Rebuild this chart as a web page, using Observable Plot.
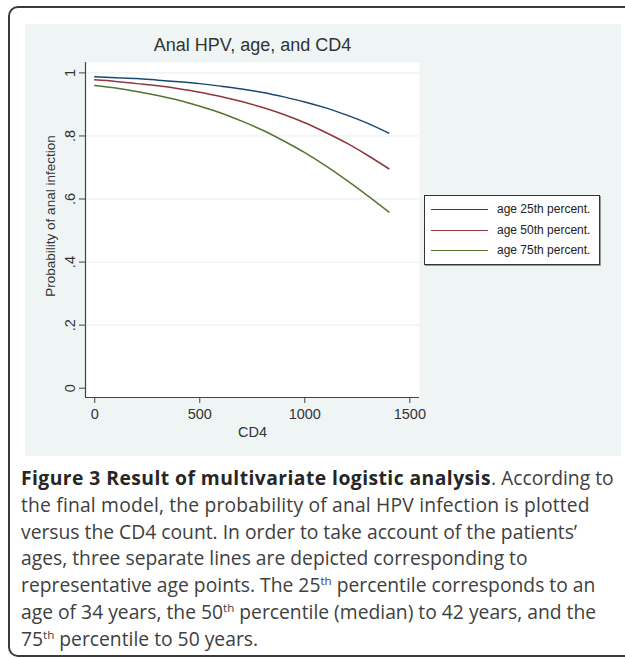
<!DOCTYPE html>
<html>
<head>
<meta charset="utf-8">
<script src="https://cdn.jsdelivr.net/npm/d3@7"></script>
<script src="https://cdn.jsdelivr.net/npm/@observablehq/plot@0.6"></script>
<style>
  html, body { margin: 0; padding: 0; background: #fff; }
  body { width: 625px; height: 659px; overflow: hidden; position: relative; }
  #border { position: absolute; left: 8px; top: 6px; width: 660px; height: 647px;
    border: 2px solid #3a3a3a; border-radius: 10px; }
  #panel { position: absolute; left: 25px; top: 24px; width: 596px; height: 432px; background: #eff5f5; }
  #chart { position: absolute; left: 25px; top: 24px; }
  #legend { position: absolute; left: 424px; top: 195px; width: 174px; height: 68px;
    background: #fff; border: 1px solid #333; box-shadow: 1px 1px 0 #999;
    font-family: "Liberation Sans", Arial, sans-serif; font-size: 12px; color: #222; }
  .row { position: absolute; left: 0; height: 14px; }
  .row .ln { position: absolute; left: 6px; top: 6px; width: 57px; height: 0; border-top: 1.5px solid; }
  .row .tx { position: absolute; left: 72px; top: -1px; white-space: nowrap; }
  #caption { position: absolute; left: 21px; top: 465px; width: 604px;
    font-family: "Open Sans", sans-serif; font-size: 19.3px; line-height: 26.8px; color: #404040; white-space: nowrap; }
  #caption b { color: #262626; letter-spacing: 0.45px; }
  #caption .l2 { letter-spacing: 0.18px; }
  #caption sup { font-size: 0.6em; line-height: 0; vertical-align: 0.62em; }
</style>
</head>
<body>
<div id="border"></div>
<div id="panel"></div>
<div id="chart"></div>
<div id="legend"></div>
<div id="caption">
<b>Figure 3 Result of multivariate logistic analysis</b>. According to<br>
<span class="l2">the final model, the probability of anal HPV infection is plotted</span><br>
versus the CD4 count. In order to take account of the patients’<br>
ages, three separate lines are depicted corresponding to<br>
representative age points. The 25<sup>th</sup> percentile corresponds to an<br>
age of 34 years, the 50<sup>th</sup> percentile (median) to 42 years, and the<br>
75<sup>th</sup> percentile to 50 years.
</div>
<script>
const cd4 = [0, 100, 200, 300, 400, 500, 600, 700, 800, 900, 1000, 1100, 1200, 1300, 1400];
const age25 = [0.988, 0.985, 0.982, 0.977, 0.972, 0.966, 0.958, 0.949, 0.938, 0.924, 0.908, 0.889, 0.866, 0.840, 0.809];
const age50 = [0.978, 0.973, 0.966, 0.959, 0.950, 0.939, 0.925, 0.909, 0.890, 0.868, 0.842, 0.811, 0.777, 0.738, 0.696];
const age75 = [0.960, 0.952, 0.941, 0.928, 0.913, 0.894, 0.873, 0.847, 0.818, 0.784, 0.747, 0.705, 0.659, 0.610, 0.559];
const seriesNames = ["age 25th percent.", "age 50th percent.", "age 75th percent."];
const seriesColors = ["#1a476f", "#90353b", "#55752f"];
const xTicks = [0, 500, 1000, 1500];
const xTickLabels = ["0", "500", "1000", "1500"];
const yTicks = [0, 0.2, 0.4, 0.6, 0.8, 1];
const yTickLabels = ["0", ".2", ".4", ".6", ".8", "1"];
const titleText = "Anal HPV, age, and CD4";
const xLabel = "CD4";
const yLabel = "Probability of anal infection";

const seriesValues = [age25, age50, age75];
const rows = [];
seriesValues.forEach((vals, s) => vals.forEach((v, i) => rows.push({x: cd4[i], y: v, s: seriesNames[s]})));

const xDomain = [-44, 1546];
const yDomain = [-0.0295, 1.033];
const font = "Liberation Sans, Arial, sans-serif";

const chart = Plot.plot({
  width: 596,
  height: 432,
  marginLeft: 60,
  marginRight: 202,
  marginTop: 38,
  marginBottom: 59,
  style: {fontFamily: font, fontSize: "14px", color: "#333", background: "transparent"},
  x: {domain: xDomain},
  y: {domain: yDomain},
  color: {domain: seriesNames, range: seriesColors},
  marks: [
    Plot.frame({fill: "white", stroke: null}),
    Plot.gridY(yTicks.filter(d => d > 0), {stroke: "#e4eeef", strokeOpacity: 1, strokeWidth: 1}),
    Plot.ruleX([xDomain[0]], {stroke: "#444", strokeWidth: 1.2}),
    Plot.ruleY([yDomain[0]], {stroke: "#444", strokeWidth: 1.2}),
    Plot.axisX(xTicks, {tickSize: 6, tickPadding: 5, label: null, stroke: "#444", fill: "#333", fontSize: 14.5,
      tickFormat: (d) => xTickLabels[xTicks.indexOf(d)]}),
    Plot.axisY(yTicks, {tickSize: 6, tickPadding: 5, tickRotate: -90, label: null,
      tickFormat: (d) => yTickLabels[yTicks.indexOf(d)], stroke: "#444", fill: "#333", fontSize: 14.5}),
    Plot.line(rows, {x: "x", y: "y", z: "s", stroke: "s", strokeWidth: 1.5, curve: "monotone-x"}),
    Plot.text([titleText], {frameAnchor: "top", dy: -17, lineAnchor: "middle", fontSize: 18, fill: "#333"}),
    Plot.text([xLabel], {frameAnchor: "bottom", dy: 35, lineAnchor: "middle", fontSize: 14.5, fill: "#333"}),
    Plot.text([yLabel], {frameAnchor: "left", dx: -35, dy: -14, rotate: -90, textAnchor: "middle", lineAnchor: "middle", fontSize: 13.5, fill: "#333"})
  ]
});
document.getElementById("chart").appendChild(chart);

const legend = document.getElementById("legend");
seriesNames.forEach((name, i) => {
  const row = document.createElement("div");
  row.className = "row";
  row.style.top = (7 + i * 20.5) + "px";
  row.style.width = "170px";
  const ln = document.createElement("div");
  ln.className = "ln";
  ln.style.borderTopColor = seriesColors[i];
  const tx = document.createElement("div");
  tx.className = "tx";
  tx.textContent = name;
  row.appendChild(ln);
  row.appendChild(tx);
  legend.appendChild(row);
});
</script>
</body>
</html>
